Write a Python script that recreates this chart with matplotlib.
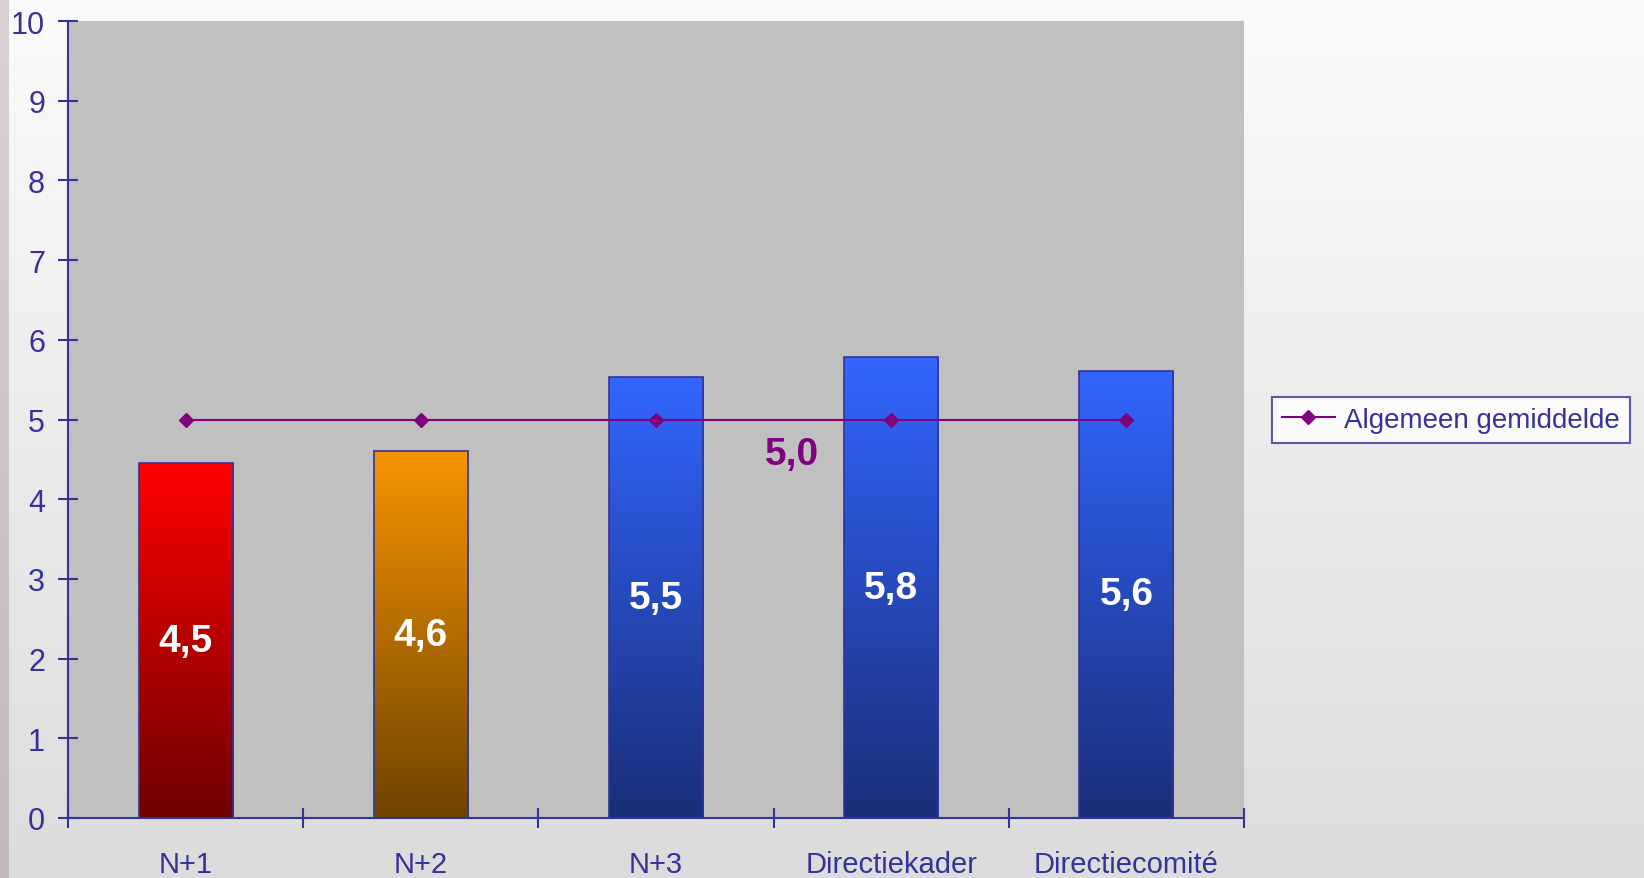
import numpy as np
import matplotlib
matplotlib.use("Agg")
import matplotlib.pyplot as plt
from matplotlib.colors import LinearSegmentedColormap

# Data
categories = ["N+1", "N+2", "N+3", "Directiekader", "Directiecomité"]
values = [4.45, 4.6, 5.53, 5.78, 5.61]
value_labels = ["4,5", "4,6", "5,5", "5,8", "5,6"]
average = [5.0, 5.0, 5.0, 5.0, 5.0]
average_label = "5,0"
legend_label = "Algemeen gemiddelde"

# bar colours: (top, bottom) of the vertical gradient
bar_colours = [
    ("#ff0000", "#6e0000"),
    ("#f79400", "#6e4400"),
    ("#3366ff", "#1a2e78"),
    ("#3366ff", "#1a2e78"),
    ("#3366ff", "#1a2e78"),
]

navy = "#333399"
purple = "#800080"

plt.rcParams["font.family"] = ["Liberation Sans", "DejaVu Sans"]

fig = plt.figure(figsize=(16.44, 8.79), dpi=100)

#
# Background: light vertical gradient with a thin greyish strip on the left
#
bg = fig.add_axes([0, 0, 1, 1], zorder=-10)
grad = np.linspace(0, 1, 256)[:, None]
bg_cmap = LinearSegmentedColormap.from_list("bg", ["#fbfbfb", "#dcdcdc"])
bg.imshow(grad, aspect="auto", cmap=bg_cmap, extent=[0, 1, 0, 1], origin="upper")
strip_cmap = LinearSegmentedColormap.from_list("strip", ["#d8d2d4", "#c2b8bc"])
bg.imshow(grad, aspect="auto", cmap=strip_cmap, extent=[0, 8 / 1644, 0, 1], origin="upper")
bg.set_xlim(0, 1)
bg.set_ylim(0, 1)
bg.axis("off")

ax = fig.add_axes([68 / 1644, 60 / 879, 1176 / 1644, 797 / 879])
ax.set_facecolor("#c0c0c0")

x = np.arange(len(categories))
bars = ax.bar(x, values, width=0.4, edgecolor=navy, linewidth=1.2, zorder=2)

# fill each bar with a vertical gradient clipped to the bar
for bar, (top, bottom) in zip(bars, bar_colours):
    bar.set_facecolor("none")
    cmap = LinearSegmentedColormap.from_list("g", [top, bottom])
    x0, y0 = bar.get_x(), bar.get_y()
    w, h = bar.get_width(), bar.get_height()
    im = ax.imshow(grad, aspect="auto", cmap=cmap, extent=[x0, x0 + w, y0, y0 + h],
                   origin="upper", zorder=1.5)
    im.set_clip_path(bar)

for xi, v, lab in zip(x, values, value_labels):
    ax.text(xi, v / 2, lab, ha="center", va="center", color="white",
            fontsize=28, fontweight="bold", zorder=4)

ax.plot(x, average, color=purple, linewidth=1.5, marker="D", markersize=7,
        zorder=3, label=legend_label)
ax.text(2.58, 4.57, average_label, ha="center", va="center", color=purple,
        fontsize=28, fontweight="bold", zorder=4)

ax.set_xlim(-0.5, len(categories) - 0.5)
ax.set_ylim(0, 10)
ax.set_yticks(range(0, 11))

ax.set_xticks(x)
ax.set_xticklabels(categories)
ax.set_xticks(np.arange(-0.5, len(categories), 1.0), minor=True)
ax.tick_params(axis="x", which="major", length=0, pad=23, labelsize=21, labelcolor=navy)
ax.tick_params(axis="x", which="minor", direction="inout", length=15, width=1.5, color=navy)
ax.tick_params(axis="y", direction="inout", length=15, width=1.5, color=navy,
               labelsize=22, labelcolor=navy, pad=9)

for side in ["top", "right"]:
    ax.spines[side].set_visible(False)
for side in ["left", "bottom"]:
    ax.spines[side].set_color(navy)
    ax.spines[side].set_linewidth(1.5)
    ax.spines[side].set_zorder(5)

leg = fig.legend(loc="center left", bbox_to_anchor=(1272 / 1644, 1 - 421 / 879),
                 fontsize=20, frameon=True, fancybox=False, handlelength=1.9,
                 handletextpad=0.35, borderpad=0.35, borderaxespad=0)
leg.get_frame().set_edgecolor(navy)
leg.get_frame().set_linewidth(1.5)
leg.get_frame().set_facecolor("white")
for t in leg.get_texts():
    t.set_color(navy)

fig.savefig("out.png", dpi=100)
